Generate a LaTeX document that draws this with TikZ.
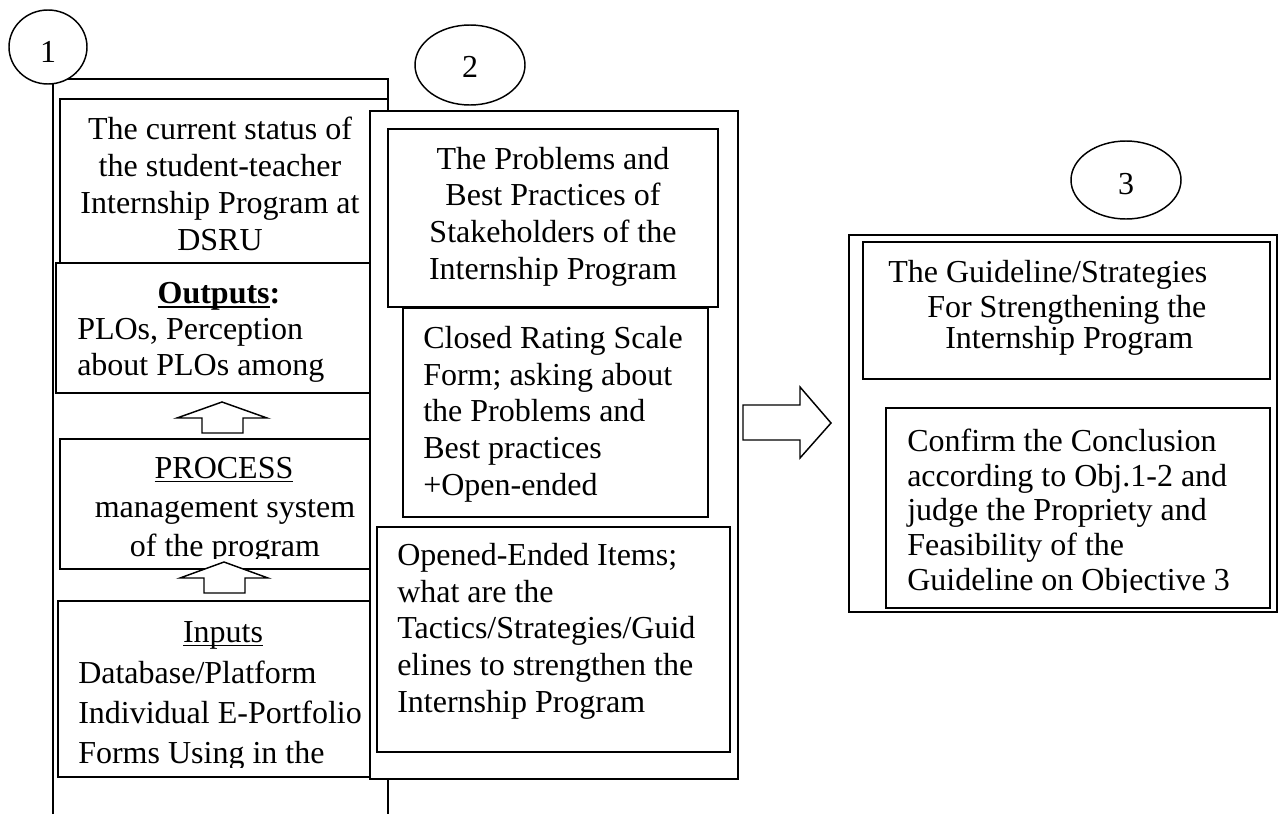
\documentclass[tikz,border=0pt]{standalone}
\usepackage{fontspec}
\setmainfont{Liberation Serif}
\usetikzlibrary{shapes.geometric}
\newcommand\myul[2][0.9pt]{\setbox0\hbox{#2}\rlap{\vrule height -2.2pt depth \dimexpr2.2pt+#1\relax width \wd0}\box0}
\begin{document}
\begin{tikzpicture}[x=0.75pt,y=-0.75pt,
  font=\fontsize{24}{27.75}\selectfont,
  frame/.style={draw,line width=1.5pt,fill=white},
  box/.style={draw,line width=0.9pt},
  ltxt/.style={inner sep=0pt,anchor=base west},
  ctxt/.style={inner sep=0pt,anchor=base},
  blockarrow/.style={draw,line width=1.1pt,fill=white,line join=miter},
  oval/.style={draw,ellipse,line width=1.1pt,fill=white,inner sep=0pt}]
\useasboundingbox (0,0) rectangle (1281,814);
\fill[white] (0,0) rectangle (1281,814);

% ---------- column 1 ----------
\draw[line width=1.5pt] (53,814) -- (53,79) -- (388,79) -- (388,814);
\draw[box] (60,99) rectangle (388,263);
\node[ctxt] (a1) at (220,139) {The current status of};
\node[ctxt] (a2) at (220,176) {the student-teacher};
\node[ctxt] (a3) at (220,213) {Internship Program at};
\node[ctxt] (a4) at (220,250) {DSRU};

\draw[box,fill=white] (56,263) rectangle (370,393);
\node[ctxt] (b1) at (219,303) {\bfseries\myul[1.4pt]{Outputs}:};
\node[ltxt] (b2) at (77,339) {PLOs, Perception};
\node[ltxt] (b3) at (77,375) {about PLOs among};

\draw[box] (60,439) rectangle (370,569);
\node[ctxt] (c1) at (224,478) {\myul{PROCESS}};
\node[ctxt] (c2) at (225,517) {management system};
\begin{scope}
  \clip (60,439) rectangle (370,558);
  \node[ctxt] (c3) at (225,556) {of the program};
\end{scope}

\draw[box] (58,601) rectangle (370,777);
\node[ctxt] (d1) at (223,642) {\myul{Inputs}};
\node[ltxt] (d2) at (78,683) {Database/Platform};
\node[ltxt] (d3) at (78,723) {Individual E-Portfolio};
\begin{scope}
  \clip (58,601) rectangle (370,767);
  \node[ltxt] (d4) at (78,763) {Forms Using in the};
\end{scope}

\draw[blockarrow] (202,433) -- (202,418) -- (177,418) -- (222,402) -- (267,418) -- (243,418) -- (243,433) -- cycle;
\draw[blockarrow] (204,593) -- (204,578) -- (180,578) -- (224,562) -- (268,578) -- (245,578) -- (245,593) -- cycle;

\node[oval,minimum width=58.5pt,minimum height=55.5pt] (o1) at (48,47) {};
\node[ctxt] (n1) at (48,62) {1};

% ---------- column 2 ----------
\draw[frame] (370,111) rectangle (738,779);
\draw[box] (388,129) rectangle (718,307);
\node[ctxt] (e1) at (553,169) {The Problems and};
\node[ctxt] (e2) at (553,205) {Best Practices of};
\node[ctxt] (e3) at (553,242) {Stakeholders of the};
\node[ctxt] (e4) at (553,279) {Internship Program};

\draw[box] (403,308) rectangle (708,517);
\node[ltxt] (f1) at (423,348) {Closed Rating Scale};
\node[ltxt] (f2) at (423,385) {Form; asking about};
\node[ltxt] (f3) at (423,421) {the Problems and};
\node[ltxt] (f4) at (423,458) {Best practices};
\node[ltxt] (f5) at (423,495) {+Open-ended};

\draw[box] (377,527) rectangle (730,752);
\node[ltxt] (g1) at (397,565) {Opened-Ended Items;};
\node[ltxt] (g2) at (397,602) {what are the};
\node[ltxt] (g3) at (397,638) {Tactics/Strategies/Guid};
\node[ltxt] (g4) at (397,675) {elines to strengthen the};
\node[ltxt] (g5) at (397,712) {Internship Program};

\node[oval,minimum width=82.5pt,minimum height=60pt] (o2) at (470,65) {};
\node[ctxt] (n2) at (470,77) {2};

% ---------- arrow ----------
\draw[blockarrow] (743,405) -- (800,405) -- (800,387) -- (831,423) -- (800,458) -- (800,440) -- (743,440) -- cycle;

% ---------- column 3 ----------
\draw[line width=1.1pt] (849,235) rectangle (1277,612);
\draw[box] (863,242) rectangle (1270,379);
\node[ltxt] (h1) at (888,282) {The Guideline/Strategies};
\node[ltxt] (h2) at (927,317) {For Strengthening the};
\node[ltxt] (h3) at (945,348) {Internship Program};

\draw[box] (886,408) rectangle (1270,608);
\node[ltxt] (i1) at (907,451) {Confirm the Conclusion};
\node[ltxt] (i2) at (907,486) {according to Obj.1-2 and};
\node[ltxt] (i3) at (907,520) {judge the Propriety and};
\node[ltxt] (i4) at (907,555) {Feasibility of the};
\begin{scope}
  \clip (886,408) rectangle (1270,592);
  \node[ltxt] (i5) at (907,590) {Guideline on Objective 3};
\end{scope}

\node[oval,minimum width=82.5pt,minimum height=58.5pt] (o3) at (1126,180) {};
\node[ctxt] (n3) at (1126,194) {3};
\end{tikzpicture}
\end{document}
